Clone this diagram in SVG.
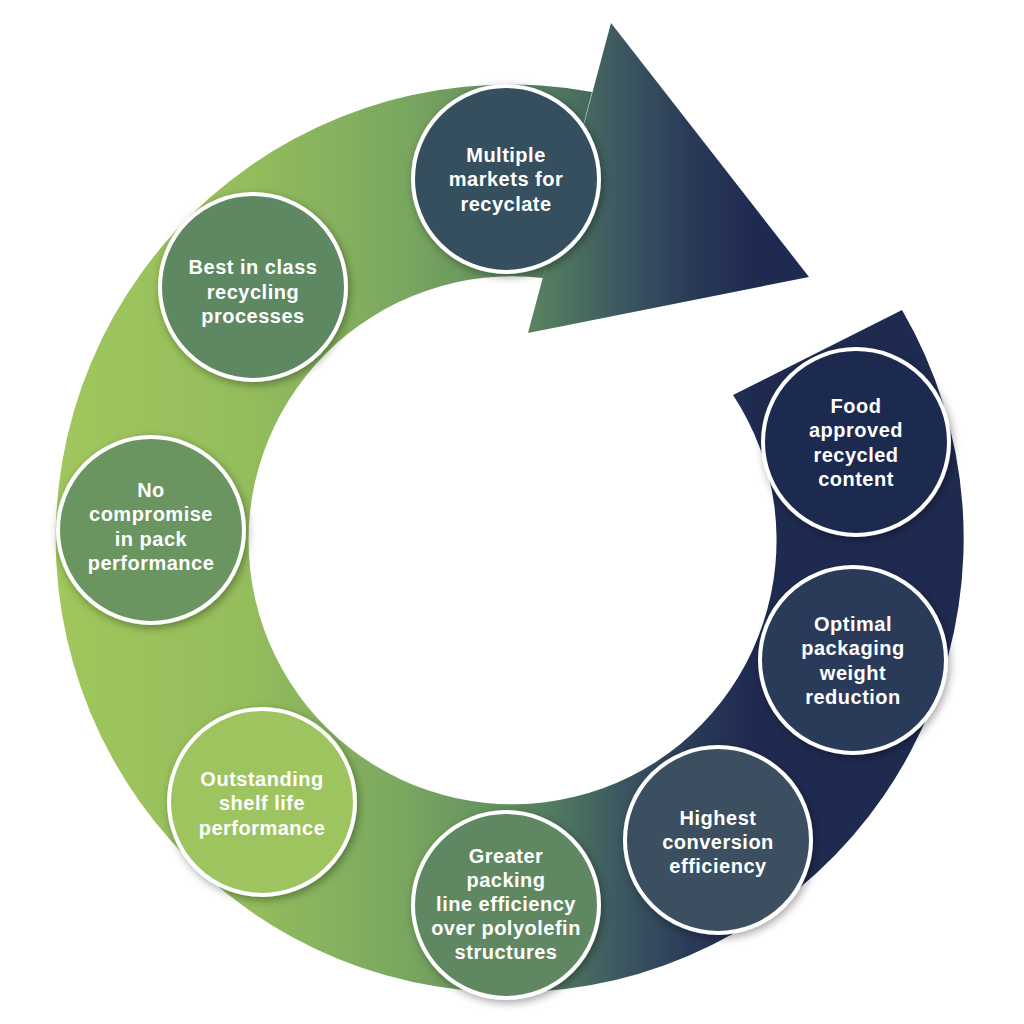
<svg xmlns="http://www.w3.org/2000/svg" width="1024" height="1024" viewBox="0 0 1024 1024">
<defs>
<linearGradient id="ringGrad" gradientUnits="userSpaceOnUse" x1="0" y1="0" x2="1024" y2="0">
<stop offset="0.06" stop-color="#a0c65c"/>
<stop offset="0.24" stop-color="#95bd5c"/>
<stop offset="0.39" stop-color="#7ba860"/>
<stop offset="0.49" stop-color="#62905f"/>
<stop offset="0.55" stop-color="#4e7560"/>
<stop offset="0.605" stop-color="#3c5860"/>
<stop offset="0.675" stop-color="#2a3a58"/>
<stop offset="0.735" stop-color="#1f2a50"/>
</linearGradient>
<filter id="shadow" x="-20%" y="-20%" width="140%" height="140%">
<feDropShadow dx="2" dy="3" stdDeviation="4" flood-color="#000" flood-opacity="0.35"/>
</filter>
</defs>
<style>
.node circle { stroke: #ffffff; stroke-width: 4; filter: url(#shadow); }
.node text { font-family: "Liberation Sans", Arial, sans-serif; font-weight: 700; font-size: 20px; letter-spacing: 0.5px; fill: #ffffff; text-anchor: middle; }
</style>
<rect width="1024" height="1024" fill="#ffffff"/>
<g id="connectors">
<path d="M 902 310 A 454 454 0 1 1 592 92 L 543 278 A 264 264 0 1 0 733 395 Z" fill="url(#ringGrad)"/>
<polygon points="611,23 809,277 528,333" fill="url(#ringGrad)"/>
</g>
<g id="node-multiple" class="node">
<circle cx="506" cy="179" r="93" fill="#36505f"/>
<text x="506" y="162">Multiple</text>
<text x="506" y="186">markets for</text>
<text x="506" y="211">recyclate</text>
</g>
<g id="node-best" class="node">
<circle cx="253" cy="287" r="93" fill="#5d8862"/>
<text x="253" y="274">Best in class</text>
<text x="253" y="299">recycling</text>
<text x="253" y="323">processes</text>
</g>
<g id="node-nocompromise" class="node">
<circle cx="151" cy="530" r="93" fill="#6b9560"/>
<text x="151" y="497">No</text>
<text x="151" y="521">compromise</text>
<text x="151" y="546">in pack</text>
<text x="151" y="570">performance</text>
</g>
<g id="node-outstanding" class="node">
<circle cx="262" cy="802" r="93" fill="#9ec45e"/>
<text x="262" y="786">Outstanding</text>
<text x="262" y="810">shelf life</text>
<text x="262" y="835">performance</text>
</g>
<g id="node-greater" class="node">
<circle cx="506" cy="905" r="93" fill="#5e8862"/>
<text x="506" y="863">Greater</text>
<text x="506" y="887">packing</text>
<text x="506" y="911">line efficiency</text>
<text x="506" y="935">over polyolefin</text>
<text x="506" y="959">structures</text>
</g>
<g id="node-highest" class="node">
<circle cx="718" cy="840" r="93" fill="#3a5060"/>
<text x="718" y="825">Highest</text>
<text x="718" y="849">conversion</text>
<text x="718" y="873">efficiency</text>
</g>
<g id="node-optimal" class="node">
<circle cx="853" cy="660" r="93" fill="#2c3b5a"/>
<text x="853" y="631">Optimal</text>
<text x="853" y="655">packaging</text>
<text x="853" y="680">weight</text>
<text x="853" y="704">reduction</text>
</g>
<g id="node-food" class="node">
<circle cx="856" cy="442" r="93" fill="#1f2a50"/>
<text x="856" y="413">Food</text>
<text x="856" y="437">approved</text>
<text x="856" y="462">recycled</text>
<text x="856" y="486">content</text>
</g>
</svg>
